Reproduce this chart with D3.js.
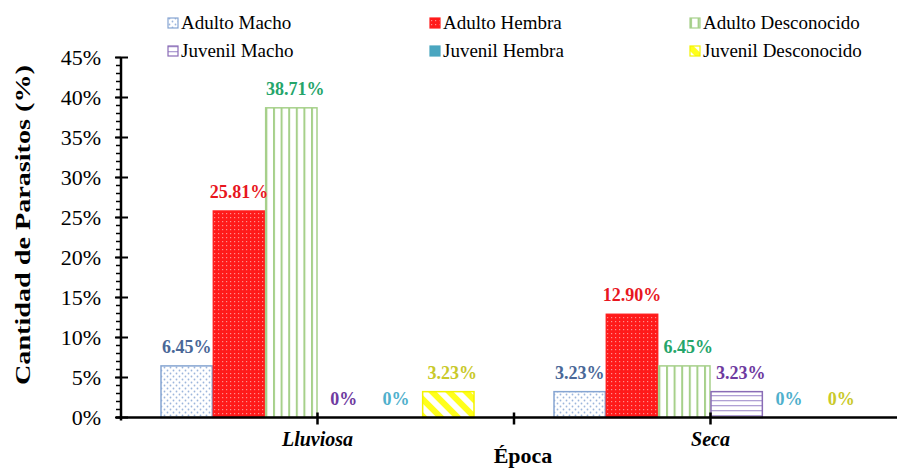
<!DOCTYPE html>
<html><head><meta charset="utf-8">
<script src="https://cdn.jsdelivr.net/npm/d3@7"></script>
<style>body{margin:0;background:#fff}svg{display:block}</style>
</head><body>
<svg id="c" width="897" height="470"></svg>
<script>
const categories = ["Lluviosa", "Seca"];
const seriesNames = ["Adulto Macho", "Adulto Hembra", "Adulto Desconocido", "Juvenil Macho", "Juvenil Hembra", "Juvenil Desconocido"];
const lluviosaValues = [6.45, 25.81, 38.71, 0, 0, 3.23];
const secaValues = [3.23, 12.90, 6.45, 3.23, 0, 0];
const yTickValues = [0, 5, 10, 15, 20, 25, 30, 35, 40, 45];
const xTitle = "Época";
const yTitle = "Cantidad de Parasitos (%)";

const valuesByCat = {"Lluviosa": lluviosaValues, "Seca": secaValues};
const labelColors = ["#4a6898", "#e8161e", "#25a56a", "#6e3aa0", "#4fb0cc", "#c9c92a"];
const strokeColors = ["#86a5d2", "#ff1f1f", "#a6d08a", "#8a6cb6", "#4aa6bf", "#f2f200"];
const fills = ["url(#pDots)", "url(#pRed)", "url(#pVert)", "url(#pHoriz)", "#4aa6c0", "url(#pDiag)"];
const FF = '"Liberation Serif"';

const svg = d3.select("#c");
const defs = svg.append("defs");

// patterns
let p = defs.append("pattern").attr("id","pDots").attr("patternUnits","userSpaceOnUse").attr("width",6).attr("height",6);
p.append("rect").attr("width",6).attr("height",6).attr("fill","#fff");
p.append("circle").attr("cx",1.5).attr("cy",1.5).attr("r",0.9).attr("fill","#9db6dc");
p.append("circle").attr("cx",4.5).attr("cy",4.5).attr("r",0.9).attr("fill","#9db6dc");

p = defs.append("pattern").attr("id","pRed").attr("patternUnits","userSpaceOnUse").attr("width",4).attr("height",4);
p.append("rect").attr("width",4).attr("height",4).attr("fill","#ff1a1a");
p.append("rect").attr("x",1).attr("y",1).attr("width",1.2).attr("height",1.2).attr("fill","#ff8f8f");

p = defs.append("pattern").attr("id","pVert").attr("patternUnits","userSpaceOnUse").attr("width",7.6).attr("height",10);
p.append("rect").attr("width",7.6).attr("height",10).attr("fill","#fff");
p.append("rect").attr("x",0).attr("width",2).attr("height",10).attr("fill","#a6d08a");

p = defs.append("pattern").attr("id","pHoriz").attr("patternUnits","userSpaceOnUse").attr("width",10).attr("height",5);
p.append("rect").attr("width",10).attr("height",5).attr("fill","#fff");
p.append("rect").attr("y",0).attr("width",10).attr("height",1.3).attr("fill","#b0a0d4");

p = defs.append("pattern").attr("id","pDiag").attr("patternUnits","userSpaceOnUse").attr("width",12).attr("height",12).attr("patternTransform","rotate(-45)");
p.append("rect").attr("width",12).attr("height",12).attr("fill","#fff");
p.append("rect").attr("width",6).attr("height",12).attr("fill","#ffff1a");

// scales
const x0 = d3.scaleBand().domain(categories).range([121, 907]).padding(0);
const x1 = d3.scaleBand().domain(seriesNames).range([39.5, x0.bandwidth() - 39.5]).padding(0);
const y = d3.scaleLinear().domain([0, 45]).range([417.5, 57.5]);

// bars
const groups = svg.append("g").selectAll("g").data(categories).join("g")
  .attr("transform", d => `translate(${x0(d)},0)`);
groups.selectAll("rect").data(c => valuesByCat[c].map((v, i) => ({v, i, s: seriesNames[i]})))
  .join("rect")
  .filter(d => d.v > 0)
  .attr("x", d => x1(d.s) + 0.5).attr("width", x1.bandwidth() - 1)
  .attr("y", d => y(d.v)).attr("height", d => y(0) - y(d.v))
  .attr("fill", d => fills[d.i]).attr("stroke", d => strokeColors[d.i]).attr("stroke-width", 1.5);
groups.selectAll("text").data(c => valuesByCat[c].map((v, i) => ({v, i, s: seriesNames[i]})))
  .join("text")
  .attr("x", d => x1(d.s) + x1.bandwidth() / 2 + (d.i >= 2 && d.v > 0 ? 4 : 0))
  .attr("y", d => y(d.v) - 13)
  .attr("text-anchor", "middle").style("font-family", FF).style("font-weight", "bold").style("font-size", "18px")
  .attr("fill", d => labelColors[d.i])
  .text(d => d.v === 0 ? "0%" : d.v.toFixed(2) + "%");

// y axis
const yAx = svg.append("g").attr("transform", "translate(121,0)");
yAx.append("line").attr("x1", 0).attr("x2", 0).attr("y1", y(45)).attr("y2", y(0) + 3).attr("stroke", "#000").attr("stroke-width", 2.5);
yAx.selectAll(".minor").data(d3.range(0, 46)).join("line")
  .attr("x1", -5).attr("x2", 0).attr("y1", d => y(d)).attr("y2", d => y(d)).attr("stroke", "#000").attr("stroke-width", 1.5);
yAx.selectAll(".major").data(yTickValues).join("line")
  .attr("x1", -6).attr("x2", 7).attr("y1", d => y(d)).attr("y2", d => y(d)).attr("stroke", "#000").attr("stroke-width", 2);
yAx.selectAll("text").data(yTickValues).join("text")
  .attr("x", -20).attr("y", d => y(d) + 7)
  .attr("text-anchor", "end").style("font-family", FF).style("font-size", "22px").attr("fill", "#000")
  .text(d => d + "%");

// x axis
svg.append("line").attr("x1", 116).attr("x2", 897).attr("y1", y(0)).attr("y2", y(0)).attr("stroke", "#000").attr("stroke-width", 2.5);
const xTicks = [x0("Lluviosa") + x0.bandwidth() / 2, x0("Seca"), x0("Seca") + x0.bandwidth() / 2];
svg.selectAll(".xt").data(xTicks).join("line")
  .attr("x1", d => d).attr("x2", d => d).attr("y1", y(0) - 5).attr("y2", y(0) + 7).attr("stroke", "#000").attr("stroke-width", 2.5);
svg.selectAll(".xl").data(categories).join("text")
  .attr("x", d => x0(d) + x0.bandwidth() / 2).attr("y", 446)
  .attr("text-anchor", "middle").style("font-family", FF).style("font-size", "20px").style("font-weight", "bold").style("font-style", "italic")
  .text(d => d);

// titles
svg.append("text").attr("x", x0("Seca") + 9).attr("y", 463).attr("text-anchor", "middle")
  .style("font-family", FF).style("font-size", "22px").style("font-weight", "bold").text(xTitle);
svg.append("text").attr("transform", "translate(30,225) rotate(-90)").attr("text-anchor", "middle")
  .attr("textLength", 320).attr("lengthAdjust", "spacingAndGlyphs")
  .style("font-family", FF).style("font-size", "21px").style("font-weight", "bold").text(yTitle);

// legend
const legX = [168, 430, 690];
const legY = [23, 51];
const leg = svg.append("g").selectAll("g").data(seriesNames).join("g")
  .attr("transform", (d, i) => `translate(${legX[i % 3]},${legY[Math.floor(i / 3)]})`);
leg.append("rect").attr("x", 0).attr("y", -5).attr("width", 10).attr("height", 10)
  .attr("fill", (d, i) => fills[i]).attr("stroke", (d, i) => strokeColors[i]).attr("stroke-width", 1.2);
leg.append("text").attr("x", 13).attr("y", 6).style("font-family", FF).style("font-size", "19px").attr("fill", "#000").text(d => d);
</script>
</body></html>
